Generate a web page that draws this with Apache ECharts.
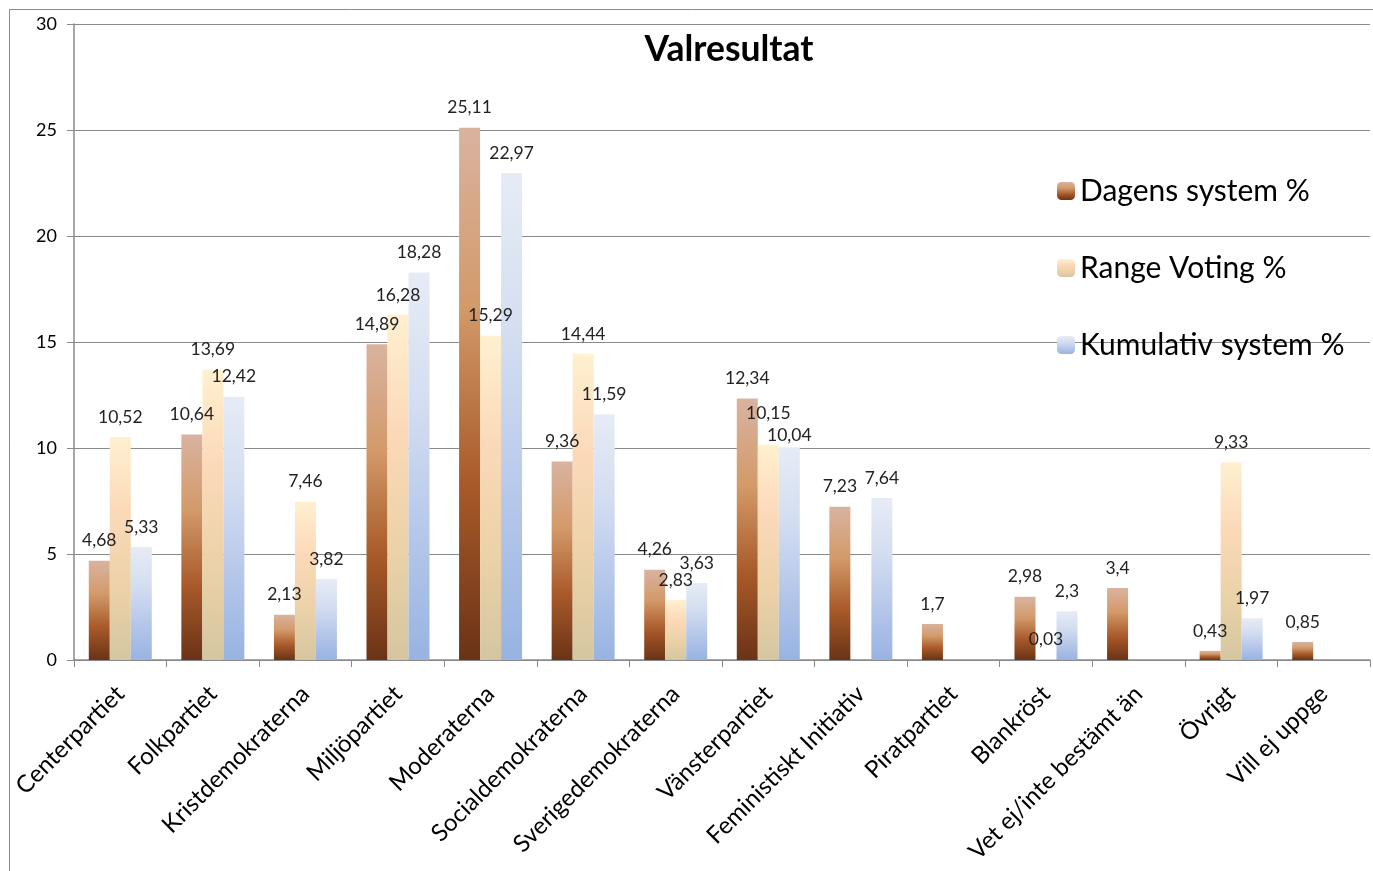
<!DOCTYPE html>
<html><head><meta charset="utf-8">
<script src="https://cdn.jsdelivr.net/npm/echarts@6/dist/echarts.min.js"></script>
<style>html,body{margin:0;padding:0;background:#fff}#c{width:1373px;height:871px}</style>
</head><body><div id="c"></div>
<script>
const categories = ["Centerpartiet","Folkpartiet","Kristdemokraterna","Miljöpartiet","Moderaterna","Socialdemokraterna","Sverigedemokraterna","Vänsterpartiet","Feministiskt Initiativ","Piratpartiet","Blankröst","Vet ej/inte bestämt än","Övrigt","Vill ej uppge"];
const dagens = [4.68,10.64,2.13,14.89,25.11,9.36,4.26,12.34,7.23,1.7,2.98,3.4,0.43,0.85];
const rangeVoting = [10.52,13.69,7.46,16.28,15.29,14.44,2.83,10.15,null,null,0.03,null,9.33,null];
const kumulativ = [5.33,12.42,3.82,18.28,22.97,11.59,3.63,10.04,7.64,null,2.3,null,1.97,null];
const seriesNames = ["Dagens system %","Range Voting %","Kumulativ system %"];

const FONT = "Lato, 'Open Sans', sans-serif";
function grad(stops){
  return new echarts.graphic.LinearGradient(0,0,0,1,stops.map((c,i)=>({offset:i/(stops.length-1),color:c})));
}
const colors = [
  grad(['#d9b3a0','#d39a6a','#a95a2a','#6a3316']),
  grad(['#fff0d0','#fbd9b8','#ecd2a8','#d5c6a0']),
  grad(['#e6ecf6','#d4def1','#b6c8ea','#98b3e2'])
];
const lbl = {show:true,position:'top',distance:11,fontFamily:FONT,fontSize:17.5,color:'#222',
  formatter:p=> p.value==null?'':String(p.value).replace('.',',')};
// label nudges to avoid overlapping labels (as in the original)
const labelNudge = {1:{7:[0,-11]},2:{7:[0,8]}};
function withNudge(arr, s){
  return arr.map((v,i)=> (labelNudge[s] && labelNudge[s][i]) ? {value:v,label:{offset:labelNudge[s][i]}} : v);
}
const chart = echarts.init(document.getElementById('c'),null,{renderer:'canvas'});
chart.setOption({
  animation:false,
  backgroundColor:'#fff',
  title:{text:'Valresultat',left:724,top:27,textAlign:'center',
    textStyle:{fontFamily:FONT,fontSize:35.5,fontWeight:'bold',color:'#000'}},
  legend:{orient:'vertical',left:1052,top:171,itemWidth:18,itemHeight:18,itemGap:47,
    textStyle:{fontFamily:FONT,fontSize:30,color:'#000'},
    data:seriesNames},
  graphic:[{type:'rect',shape:{x:9.5,y:9.5,width:1400,height:900},style:{fill:'none',stroke:'#8a8a8a',lineWidth:1},silent:true,z:-1}],
  grid:{left:74,right:3,top:24,bottom:211,containLabel:false},
  xAxis:{type:'category',data:categories,
    axisLine:{lineStyle:{color:'#8a8a8a',width:1.5}},
    axisTick:{show:true,alignWithLabel:false,length:7,lineStyle:{color:'#8a8a8a'}},
    axisLabel:{rotate:45,fontFamily:FONT,fontSize:24,color:'#000',margin:30,interval:0}},
  yAxis:{type:'value',min:0,max:30,interval:5,
    axisLine:{show:true,lineStyle:{color:'#8a8a8a',width:1.5}},
    axisTick:{show:true,length:7,lineStyle:{color:'#8a8a8a'}},
    axisLabel:{fontFamily:FONT,fontSize:18,color:'#000',margin:17},
    splitLine:{lineStyle:{color:'#8a8a8a',width:1.2}}},
  series:[
    {name:seriesNames[0],type:'bar',data:withNudge(dagens,0),barWidth:21,barGap:'0%',itemStyle:{color:colors[0]},label:lbl},
    {name:seriesNames[1],type:'bar',data:withNudge(rangeVoting,1),barWidth:21,barGap:'0%',itemStyle:{color:colors[1]},label:lbl},
    {name:seriesNames[2],type:'bar',data:withNudge(kumulativ,2),barWidth:21,barGap:'0%',itemStyle:{color:colors[2]},label:lbl}
  ]
});
</script></body></html>
